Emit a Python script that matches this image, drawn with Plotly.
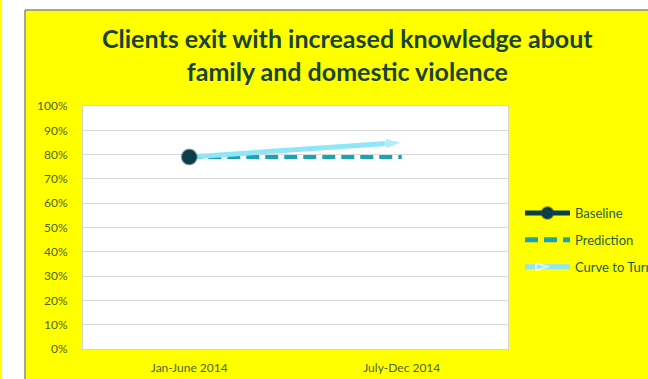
import plotly.graph_objects as go

# Reporting periods and the share of clients who exit with increased knowledge
categories = ["Jan-June 2014", "July-Dec 2014"]
baseline = [0.79, None]
prediction = [0.79, 0.79]
curve_to_turn = [0.79, 0.85]
y_ticks = [0, 0.1, 0.2, 0.3, 0.4, 0.5, 0.6, 0.7, 0.8, 0.9, 1.0]

TITLE_COLOR = "#1B4332"
TICK_COLOR = "#4F6228"
LEGEND_COLOR = "#1F5E4A"

W, H = 648, 379
L, R, T, B = 83, 140, 106, 30
PW, PH = W - L - R, H - T - B


def px_x(px):
    return (px - L) / PW


def px_y(py):
    return (H - B - py) / PH


fig = go.Figure()

fig.add_trace(go.Scatter(
    x=categories, y=prediction, name="Prediction", mode="lines",
    line=dict(color="#1AA3B4", width=4, dash="13px,6px"),
    legendgroup="p", legendrank=2, hoverinfo="skip",
))

fig.add_trace(go.Scatter(
    x=categories, y=curve_to_turn, name="Curve to Turn", mode="lines+markers",
    line=dict(color="#8FE6F6", width=5),
    marker=dict(symbol="arrow", size=[1, 17], angleref="previous",
                color="#8FE6F6"),
    legendgroup="c", legendrank=3, hoverinfo="skip",
))

fig.add_trace(go.Scatter(
    x=categories, y=baseline, name="Baseline", mode="lines+markers",
    line=dict(color="#0B3D4A", width=4),
    marker=dict(size=15, color="#0B3D4A",
                line=dict(color="rgba(40,70,80,0.45)", width=2)),
    legendgroup="b", legendrank=1, hoverinfo="skip",
))

shapes = [
    # white margin outside the chart frame
    dict(type="rect", xref="paper", yref="paper", x0=px_x(2), x1=px_x(25),
         y0=px_y(H), y1=px_y(0), fillcolor="white", line=dict(width=0), layer="above"),
    dict(type="rect", xref="paper", yref="paper", x0=px_x(25), x1=px_x(W),
         y0=px_y(10), y1=px_y(0), fillcolor="white", line=dict(width=0), layer="above"),
    # chart frame border
    dict(type="line", xref="paper", yref="paper", x0=px_x(25), x1=px_x(25),
         y0=px_y(H), y1=px_y(10), line=dict(color="#8C8C7A", width=1.5), layer="above"),
    dict(type="line", xref="paper", yref="paper", x0=px_x(25), x1=px_x(W),
         y0=px_y(10), y1=px_y(10), line=dict(color="#8C8C7A", width=1.5), layer="above"),
]

fig.update_layout(
    width=W, height=H,
    margin=dict(l=L, r=R, t=T, b=B, autoexpand=False),
    paper_bgcolor="#FFFF00",
    plot_bgcolor="white",
    shapes=shapes,
    showlegend=True,
    legend=dict(
        x=px_x(520), y=px_y(198), xanchor="left", yanchor="top",
        bgcolor="rgba(0,0,0,0)", font=dict(family="Lato", size=13, color=LEGEND_COLOR),
        traceorder="grouped", tracegroupgap=7, itemsizing="constant", itemwidth=45,
    ),
    annotations=[dict(
        text="Clients exit with increased knowledge about<br>family and domestic violence",
        xref="paper", yref="paper", x=px_x(347), y=px_y(55),
        xanchor="center", yanchor="middle", showarrow=False,
        font=dict(family="Lato", size=25, color=TITLE_COLOR, weight="bold"),
    )],
    xaxis=dict(
        type="category", range=[-0.5, 1.5], showgrid=False, showline=True, mirror=True,
        linecolor="#D5D5C8", linewidth=1, ticks="", ticklabelstandoff=8,
        tickfont=dict(family="Lato", size=12, color=TICK_COLOR),
        fixedrange=True,
    ),
    yaxis=dict(
        range=[0, 1], tickvals=y_ticks, tickformat=".0%",
        showgrid=True, gridcolor="#D9D9D9", gridwidth=1,
        showline=True, mirror=True, linecolor="#D5D5C8", linewidth=1,
        zeroline=False, ticks="", ticklen=0, ticklabelstandoff=12,
        tickfont=dict(family="Lato", size=12, color=TICK_COLOR),
        fixedrange=True,
    ),
)

fig.write_html("out.html")
